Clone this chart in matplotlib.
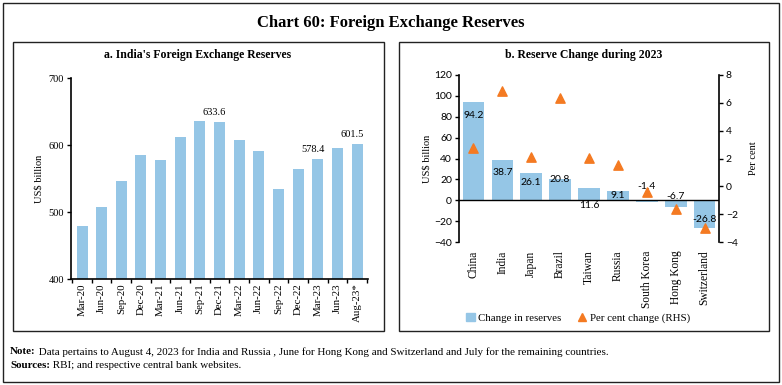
import matplotlib
matplotlib.use("Agg")
import matplotlib.pyplot as plt
from matplotlib.patches import Rectangle
from matplotlib.lines import Line2D
from matplotlib.patches import Patch

# panel a: India's reserves, US$ billion
quarters = ["Mar-20", "Jun-20", "Sep-20", "Dec-20", "Mar-21", "Jun-21", "Sep-21", "Dec-21",
            "Mar-22", "Jun-22", "Sep-22", "Dec-22", "Mar-23", "Jun-23", "Aug-23*"]
reserves = [479.5, 507.0, 546.0, 585.8, 578.0, 611.6, 636.0, 633.6,
            608.0, 590.7, 533.6, 564.0, 578.4, 596.0, 601.5]
labelled = {"Dec-21": "633.6", "Mar-23": "578.4", "Aug-23*": "601.5"}

# panel b: reserve change during 2023
countries = ["China", "India", "Japan", "Brazil", "Taiwan", "Russia", "South Korea", "Hong Kong", "Switzerland"]
change_bn = [94.2, 38.7, 26.1, 20.8, 11.6, 9.1, -1.4, -6.7, -26.8]
change_pct = [2.78, 6.84, 2.09, 6.36, 2.04, 1.54, -0.41, -1.66, -2.98]
# y positions of the value labels (as placed in the original)
label_y = [81.6, 26.2, 17.0, 20.2, -4.8, 4.8, 12.8, 3.8, -18.6]

BLUE = "#95c6e6"; ORANGE = "#f47a22"
SERIF = "Liberation Serif"; SANS = "Lato"
plt.rcParams.update({"font.family": SERIF, "font.size": 7.5, "axes.linewidth": 1.2})

W, H = 782, 385
fig = plt.figure(figsize=(W/100, H/100), dpi=100)
def fx(px): return px / W
def fy(py): return 1 - py / H

# frames
fig.patches.append(Rectangle((fx(3), fy(382)), fx(776), 379/H, transform=fig.transFigure, fill=False, lw=1.0, ec="#222"))
for x0, x1 in [(13, 384), (399, 769)]:
    fig.patches.append(Rectangle((fx(x0), fy(331)), fx(x1-x0), (331-42)/H, transform=fig.transFigure, fill=False, lw=1.0, ec="#222"))
fig.text(0.5, fy(23), "Chart 60: Foreign Exchange Reserves", ha="center", va="center", fontsize=12, fontweight="bold")
fig.text(fx(198), fy(55), "a. India's Foreign Exchange Reserves", ha="center", va="center", fontsize=8.5, fontweight="bold")
fig.text(fx(584), fy(55), "b. Reserve Change during 2023", ha="center", va="center", fontsize=8.5, fontweight="bold")

# panel a
ax = fig.add_axes([fx(71), fy(279), fx(368-71), (279-78)/H])
x = range(len(quarters))
ax.bar(x, reserves, width=0.56, color=BLUE)
for i, (q, v) in enumerate(zip(quarters, reserves)):
    if q in labelled:
        ax.text(i - 0.25, v + 8, labelled[q], ha="center", va="bottom", fontsize=7.5)
ax.set_ylim(400, 700); ax.set_yticks([400, 500, 600, 700])
ax.set_xlim(-0.56, 14.56)
ax.set_xticks(list(x)); ax.set_xticklabels(quarters, rotation=90, fontsize=7.8)
ax.tick_params(axis="x", length=0, pad=3)
ax.set_xticks([i + 0.5 for i in range(-1, 15)], minor=True)
ax.tick_params(axis="x", which="minor", length=3, width=1)
ax.tick_params(axis="y", length=3, width=1, pad=2)
for s in ["top", "right"]: ax.spines[s].set_visible(False)
ax.set_ylabel("US$ billion", labelpad=4)

# panel b
bx = fig.add_axes([fx(459), fy(242), fx(719-459), (242-75)/H])
xb = range(len(countries))
bx.bar(xb, change_bn, width=0.75, color=BLUE)
for i, (v, ly) in enumerate(zip(change_bn, label_y)):
    bx.text(i, ly, f"{v:.1f}", ha="center", va="center", fontsize=7.5, family=SANS)
bx.axhline(0, color="black", lw=1.0)
bx.set_ylim(-40, 120); bx.set_yticks(range(-40, 121, 20))
bx.set_xlim(-0.5, 8.5)
bx.set_xticks(list(xb)); bx.set_xticklabels(countries, rotation=90, fontsize=8.3)
bx.tick_params(axis="x", length=0, pad=6)
bx.tick_params(axis="y", length=3, width=1, pad=2)
for t in bx.get_yticklabels(): t.set_family(SANS)
for s in ["top", "right", "bottom"]: bx.spines[s].set_visible(False)
bx.set_ylabel("US$ billion", labelpad=2)

rx = bx.twinx()
rx.scatter(list(xb), change_pct, marker="^", s=45, color=ORANGE, zorder=3)
rx.set_ylim(-4, 8); rx.set_yticks(range(-4, 9, 2))
rx.tick_params(axis="y", length=3, width=1, pad=2)
for t in rx.get_yticklabels(): t.set_family(SANS)
for s in ["top", "left", "bottom"]: rx.spines[s].set_visible(False)
rx.set_ylabel("Per cent", labelpad=8)

fig.legend(handles=[Patch(color=BLUE, label="Change in reserves"),
                    Line2D([], [], marker="^", ls="none", color=ORANGE, markersize=6, label="Per cent change (RHS)")],
           loc="center", bbox_to_anchor=(fx(578), fy(318)), ncol=2, frameon=False, fontsize=7.8,
           handlelength=0.8, handletextpad=0.3, columnspacing=1.5)

# footnotes: bold lead-in followed by regular text
renderer = fig.canvas.get_renderer()
for py, lead, rest in [(352, "Note:", " Data pertains to August 4, 2023 for India and Russia , June for Hong Kong and Switzerland and July for the remaining countries."),
                       (366, "Sources:", " RBI; and respective central bank websites.")]:
    t = fig.text(fx(10), fy(py), lead, fontsize=7.9, fontweight="bold", va="center")
    bb = t.get_window_extent(renderer)
    fig.text(bb.x1 / W, fy(py), rest, fontsize=7.9, va="center")

plt.savefig("out.png", dpi=100)
